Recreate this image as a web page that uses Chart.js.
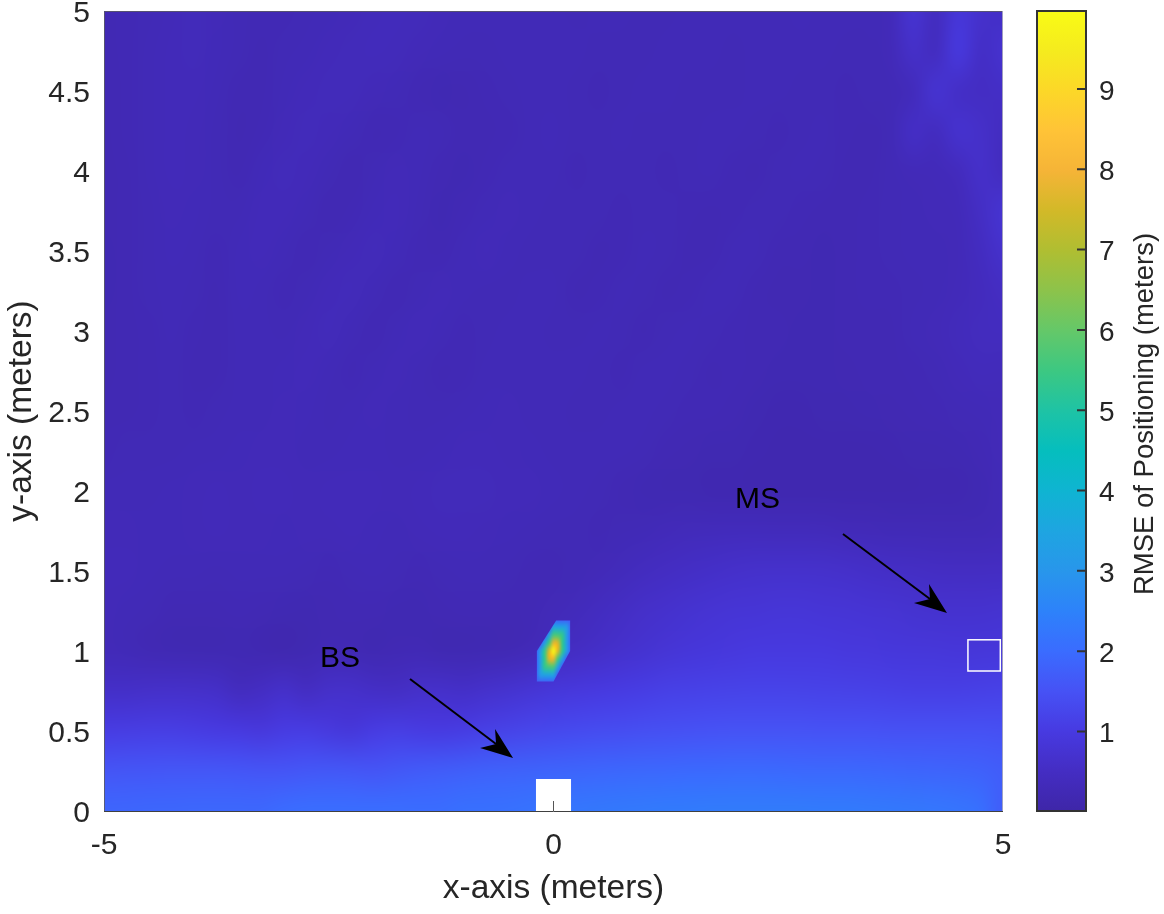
<!DOCTYPE html>
<html>
<head>
<meta charset="utf-8">
<title>RMSE of Positioning</title>
<script src="https://cdn.jsdelivr.net/npm/chart.js@4/dist/chart.umd.min.js"></script>
<style>
  html, body { margin: 0; padding: 0; background: #fff; }
  #mapChart { position: absolute; left: 0; top: 0; }
  #barChart { position: absolute; left: 1003px; top: 0; }
</style>
</head>
<body>
<canvas id="mapChart" width="1164" height="914"></canvas>
<canvas id="barChart" width="161" height="914"></canvas>
<script>
// Grid of the RMSE map, rows go from y = 5 down to y = 0
const xCells = [-5, -4.75, -4.5, -4.25, -4, -3.75, -3.5, -3.25, -3, -2.75, -2.5, -2.25, -2, -1.75, -1.5, -1.25, -1, -0.75, -0.5, -0.25, 0,
    0.25, 0.5, 0.75, 1, 1.25, 1.5, 1.75, 2, 2.25, 2.5, 2.75, 3, 3.25, 3.5, 3.75, 4, 4.25, 4.5, 4.75, 5];
const yCells = [5, 4.75, 4.5, 4.25, 4, 3.75, 3.5, 3.25, 3, 2.75, 2.5, 2.25, 2, 1.75, 1.5, 1.25, 1, 0.75, 0.5, 0.25, 0];
const rmseRows = [
    [.22,.24,.26,.30,.33,.30,.26,.24,.24,.26,.28,.30,.33,.35,.33,.30,.28,.27,.28,.28,.27, .26,.27,.27,.26,.26,.27,.28,.28,.27,.27,.29,.28,.27,.27,.32,.75,.40,.85,.65,.55],
    [.22,.24,.27,.31,.33,.29,.25,.23,.25,.28,.31,.34,.35,.33,.30,.28,.26,.26,.27,.28,.28, .27,.26,.25,.26,.27,.28,.27,.26,.27,.28,.28,.27,.26,.26,.30,.60,.42,.95,.55,.70],
    [.21,.24,.28,.32,.32,.27,.22,.22,.27,.31,.33,.33,.30,.27,.22,.20,.21,.24,.26,.28,.27, .25,.24,.26,.28,.27,.26,.25,.26,.28,.27,.26,.25,.24,.25,.26,.35,.75,.55,.50,.55],
    [.21,.24,.28,.32,.30,.25,.21,.24,.30,.33,.32,.27,.22,.24,.27,.26,.23,.22,.24,.27,.29, .26,.25,.27,.26,.25,.26,.28,.27,.25,.24,.26,.27,.24,.23,.26,.55,.42,.70,.60,.45],
    [.21,.23,.27,.31,.30,.25,.23,.29,.33,.32,.25,.21,.25,.30,.28,.23,.20,.24,.27,.28,.27, .24,.25,.26,.25,.24,.26,.27,.24,.23,.26,.27,.25,.23,.22,.25,.30,.32,.38,.62,.42],
    [.21,.23,.26,.30,.29,.25,.26,.32,.32,.27,.21,.24,.29,.31,.26,.20,.24,.28,.30,.28,.26, .25,.26,.24,.25,.26,.24,.22,.24,.26,.25,.24,.23,.22,.24,.26,.28,.30,.32,.52,.75],
    [.20,.22,.26,.29,.28,.24,.29,.31,.27,.22,.25,.30,.33,.29,.24,.23,.28,.31,.28,.26,.26, .26,.23,.24,.27,.25,.22,.23,.27,.28,.23,.22,.20,.22,.24,.25,.27,.28,.30,.45,.65],
    [.20,.22,.25,.28,.26,.22,.29,.28,.24,.26,.31,.33,.27,.22,.26,.30,.28,.25,.25,.27,.27, .23,.24,.27,.25,.22,.24,.28,.27,.22,.21,.21,.20,.22,.24,.24,.26,.27,.32,.38,.48],
    [.21,.22,.24,.27,.24,.22,.28,.27,.26,.30,.33,.27,.23,.27,.31,.27,.24,.26,.28,.27,.26, .25,.28,.25,.23,.26,.28,.26,.24,.22,.22,.20,.20,.22,.23,.23,.27,.30,.35,.40,.42],
    [.21,.22,.24,.26,.23,.23,.27,.27,.29,.32,.28,.24,.28,.30,.26,.23,.24,.27,.28,.27,.27, .27,.25,.24,.27,.27,.25,.23,.24,.22,.20,.20,.20,.21,.22,.22,.24,.26,.32,.36,.34],
    [.22,.23,.24,.25,.24,.25,.27,.28,.30,.29,.26,.27,.30,.27,.25,.25,.27,.29,.30,.28,.27, .26,.25,.27,.27,.25,.24,.24,.22,.19,.17,.17,.18,.19,.20,.21,.22,.24,.26,.28,.30],
    [.24,.25,.25,.26,.27,.28,.29,.30,.30,.28,.28,.29,.29,.27,.28,.29,.31,.31,.30,.29,.28, .27,.27,.27,.25,.23,.21,.19,.18,.16,.15,.14,.14,.15,.15,.16,.18,.18,.20,.24,.30],
    [.28,.28,.28,.29,.30,.31,.30,.31,.31,.30,.31,.32,.31,.30,.32,.33,.34,.33,.32,.31,.29, .27,.25,.22,.20,.19,.18,.17,.16,.15,.15,.14,.14,.14,.15,.15,.15,.16,.17,.20,.28],
    [.30,.30,.29,.29,.30,.32,.30,.30,.29,.30,.30,.31,.29,.28,.30,.31,.31,.30,.29,.28,.26, .25,.24,.25,.28,.31,.34,.36,.37,.37,.36,.35,.33,.32,.30,.28,.27,.26,.25,.26,.30],
    [.32,.31,.29,.28,.27,.26,.27,.28,.27,.25,.24,.26,.27,.25,.24,.26,.28,.27,.25,.24,.24, .26,.30,.36,.42,.48,.53,.58,.62,.64,.65,.65,.64,.62,.58,.55,.52,.50,.48,.48,.50],
    [.30,.28,.25,.23,.22,.22,.24,.23,.20,.19,.21,.23,.22,.20,.20,.22,.24,.24,.22,.24,.30, .36,.44,.52,.60,.66,.72,.76,.80,.82,.83,.83,.82,.80,.78,.75,.72,.70,.70,.70,.72],
    [.30,.27,.23,.20,.18,.19,.20,.16,.13,.18,.24,.22,.19,.22,.24,.19,.18,.20,.22,.30,.40, .50,.58,.66,.73,.80,.86,.90,.94,.96,.97,.97,.96,.94,.92,.90,.88,.87,.86,.87,.90],
    [.58,.58,.60,.62,.60,.58,.40,.50,.62,.48,.60,.62,.55,.52,.60,.62,.58,.65,.72,.80,.88, .94,.98,1.03,1.07,1.12,1.15,1.17,1.18,1.19,1.19,1.18,1.17,1.16,1.14,1.12,1.10,1.10,1.11,1.13,1.15],
    [1.05,1.06,1.08,1.08,1.05,1.00,.98,.92,1.02,1.04,.95,.88,1.02,1.08,1.02,1.00,1.05,1.12,1.18,1.25,1.30, 1.34,1.37,1.40,1.43,1.46,1.48,1.50,1.51,1.52,1.52,1.51,1.50,1.50,1.49,1.48,1.47,1.47,1.47,1.47,1.45],
    [1.55,1.57,1.58,1.60,1.60,1.60,1.58,1.55,1.55,1.60,1.62,1.60,1.55,1.62,1.68,1.72,1.75,1.78,1.80,1.82,1.85, 1.87,1.88,1.90,1.92,1.93,1.94,1.95,1.96,1.96,1.95,1.93,1.92,1.92,1.90,1.88,1.86,1.85,1.82,1.78,1.72],
    [1.88,1.88,1.90,1.90,1.92,1.92,1.92,1.92,2.00,2.05,2.05,2.05,2.05,2.05,2.02,2.02,2.10,2.10,2.12,2.15,2.20, 2.25,2.28,2.30,2.32,2.34,2.35,2.36,2.36,2.36,2.36,2.36,2.35,2.34,2.32,2.30,2.28,2.25,2.20,2.10,1.70]
];

// Error spike near (0, 1), read on a finer grid and cut to its outline
const peakXCells = [-0.2, -0.15, -0.1, -0.05, 0, 0.05, 0.1, 0.15, 0.2];
const peakYCells = [1.2, 1.15, 1.1, 1.05, 1, 0.95, 0.9, 0.85, 0.8];
const peakRows = [
    [1.7, 1.7, 1.7, 1.7, 1.7, 1.7, 1.7, 1.7, 1.7],
    [1.7, 1.7, 1.7, 1.7, 3.4, 3.4, 3.4, 3.1, 1.7],
    [1.7, 1.7, 1.7, 3.3, 5.6, 5.6, 5.3, 3.1, 1.7],
    [1.7, 1.7, 3.2, 5.5, 7.8, 7.6, 5.3, 3.1, 1.7],
    [1.7, 3.1, 5.3, 7.6, 9.9, 7.6, 5.3, 3.1, 1.7],
    [1.7, 3.1, 5.3, 7.6, 7.8, 5.5, 3.2, 1.7, 1.7],
    [1.7, 3.1, 5.3, 5.6, 5.6, 3.3, 1.7, 1.7, 1.7],
    [1.7, 3.1, 3.4, 3.4, 3.4, 1.7, 1.7, 1.7, 1.7],
    [1.7, 1.7, 1.7, 1.7, 1.7, 1.7, 1.7, 1.7, 1.7]
];
const peakOutlineX = [0.03, 0.185, 0.185, 0, -0.185, -0.185];
const peakOutlineY = [1.19, 1.19, 1.0, 0.81, 0.81, 1.0];

// Axis ticks
const xTicks = [-5, 0, 5];
const yTicks = [0, 0.5, 1, 1.5, 2, 2.5, 3, 3.5, 4, 4.5, 5];
const barTicks = [1, 2, 3, 4, 5, 6, 7, 8, 9];
const barRange = [0.01, 9.97];

// Colour map, position 0..1 and rgb
const mapPositions = [0, .05, .1, .15, .2, .25, .3, .35, .4, .45, .5, .55, .6, .65, .7, .75, .8, .85, .9, .95, 1];
const mapColors = [
    [62, 38, 168], [68, 45, 195], [71, 58, 225], [70, 82, 245], [58, 108, 255], [45, 130, 250], [40, 150, 235],
    [30, 165, 225], [15, 180, 210], [5, 190, 190], [30, 195, 165], [60, 200, 130], [100, 200, 105], [140, 195, 75],
    [175, 190, 50], [210, 185, 40], [245, 180, 55], [255, 195, 55], [252, 215, 40], [245, 235, 30], [249, 251, 21]
];

// Station boxes [x1, y1, x2, y2]
const bsBox = [-0.195, 0, 0.195, 0.2];
const msBox = [4.61, 0.875, 4.97, 1.07];

// Notes and arrows [xStart, yStart, xTip, yTip]
const noteLabels = ['BS', 'MS'];
const noteX = [-2.375, 2.27];
const noteY = [0.95, 1.945];
const arrows = [[-1.596, 0.825, -0.45, 0.331], [3.22, 1.731, 4.377, 1.2375]];

const fontName = '"Liberation Sans", Arial, sans-serif';
const inkColor = '#262626';

function colorFor(v) {
    const t = Math.min(1, Math.max(0, v / 10));
    let i = 0;
    while (i < mapPositions.length - 2 && t > mapPositions[i + 1]) i++;
    const f = (t - mapPositions[i]) / (mapPositions[i + 1] - mapPositions[i]);
    const a = mapColors[i], b = mapColors[i + 1];
    return [0, 1, 2].map(k => Math.round(a[k] + (b[k] - a[k]) * f));
}

// One pixel per cell, the browser smooths it when it is scaled up
function gridToCanvas(rows) {
    const c = document.createElement('canvas');
    c.width = rows[0].length;
    c.height = rows.length;
    const g = c.getContext('2d');
    const img = g.createImageData(c.width, c.height);
    rows.forEach((row, r) => row.forEach((v, i) => {
        const p = (r * c.width + i) * 4;
        const rgb = colorFor(v);
        img.data[p] = rgb[0];
        img.data[p + 1] = rgb[1];
        img.data[p + 2] = rgb[2];
        img.data[p + 3] = 255;
    }));
    g.putImageData(img, 0, 0);
    return c;
}

function drawGrid(chart, rows, xs, ys) {
    const ctx = chart.ctx;
    const sx = chart.scales.x, sy = chart.scales.y;
    const dx = Math.abs(xs[1] - xs[0]) / 2, dy = Math.abs(ys[1] - ys[0]) / 2;
    const left = sx.getPixelForValue(xs[0] - dx);
    const right = sx.getPixelForValue(xs[xs.length - 1] + dx);
    const top = sy.getPixelForValue(ys[0] + dy);
    const bottom = sy.getPixelForValue(ys[ys.length - 1] - dy);
    ctx.imageSmoothingEnabled = true;
    ctx.imageSmoothingQuality = 'high';
    ctx.drawImage(gridToCanvas(rows), left, top, right - left, bottom - top);
}

const heatPlugin = {
    id: 'heat',
    beforeDatasetsDraw(chart) {
        const a = chart.chartArea, ctx = chart.ctx;
        const sx = chart.scales.x, sy = chart.scales.y;
        ctx.save();
        ctx.beginPath();
        ctx.rect(a.left, a.top, a.right - a.left, a.bottom - a.top);
        ctx.clip();
        drawGrid(chart, rmseRows, xCells, yCells);
        ctx.beginPath();
        peakOutlineX.forEach((x, i) => ctx.lineTo(sx.getPixelForValue(x), sy.getPixelForValue(peakOutlineY[i])));
        ctx.closePath();
        ctx.clip();
        drawGrid(chart, peakRows, peakXCells, peakYCells);
        ctx.restore();
    },
    afterDatasetsDraw(chart) {
        const ctx = chart.ctx, a = chart.chartArea;
        const sx = chart.scales.x, sy = chart.scales.y;
        ctx.save();

        // stations
        const bsLeft = sx.getPixelForValue(bsBox[0]), bsTop = sy.getPixelForValue(bsBox[3]);
        ctx.fillStyle = '#fff';
        ctx.fillRect(bsLeft, bsTop, sx.getPixelForValue(bsBox[2]) - bsLeft, sy.getPixelForValue(bsBox[1]) - bsTop);
        ctx.strokeStyle = '#fff';
        ctx.lineWidth = 1.5;
        ctx.strokeRect(sx.getPixelForValue(msBox[0]), sy.getPixelForValue(msBox[3]),
            sx.getPixelForValue(msBox[2]) - sx.getPixelForValue(msBox[0]),
            sy.getPixelForValue(msBox[1]) - sy.getPixelForValue(msBox[3]));

        // the map hides the axis ticks, only the one in the white box shows
        ctx.strokeStyle = '#555';
        ctx.lineWidth = 1;
        ctx.beginPath();
        const tickX = Math.round(sx.getPixelForValue(xTicks[1])) - 0.5;
        ctx.moveTo(tickX, a.bottom);
        ctx.lineTo(tickX, a.bottom - 10);
        ctx.stroke();

        // arrows
        arrows.forEach(ar => {
            const x0 = sx.getPixelForValue(ar[0]), y0 = sy.getPixelForValue(ar[1]);
            const x1 = sx.getPixelForValue(ar[2]), y1 = sy.getPixelForValue(ar[3]);
            ctx.strokeStyle = '#000';
            ctx.fillStyle = '#000';
            ctx.lineWidth = 2;
            ctx.beginPath();
            ctx.moveTo(x0, y0);
            ctx.lineTo(x1 - 17, y1 - 14);
            ctx.stroke();
            ctx.beginPath();
            ctx.moveTo(x1, y1);
            ctx.lineTo(x1 - 18, y1 - 29);
            ctx.lineTo(x1 - 17, y1 - 14);
            ctx.lineTo(x1 - 33, y1 - 10);
            ctx.closePath();
            ctx.fill();
        });

        // notes
        ctx.font = '30px ' + fontName;
        ctx.fillStyle = '#000';
        ctx.textAlign = 'center';
        ctx.textBaseline = 'middle';
        noteLabels.forEach((t, i) => ctx.fillText(t, sx.getPixelForValue(noteX[i]), sy.getPixelForValue(noteY[i])));

        // box, bottom edge is darker than the rest
        ctx.lineWidth = 1;
        ctx.strokeStyle = 'rgba(90,90,100,0.85)';
        ctx.beginPath();
        ctx.moveTo(a.left + 0.5, a.bottom);
        ctx.lineTo(a.left + 0.5, a.top + 0.5);
        ctx.lineTo(a.right - 0.5, a.top + 0.5);
        ctx.stroke();
        ctx.strokeStyle = 'rgba(170,170,190,0.9)';
        ctx.beginPath();
        ctx.moveTo(a.right - 0.5, a.top);
        ctx.lineTo(a.right - 0.5, a.bottom);
        ctx.stroke();
        ctx.strokeStyle = '#404040';
        ctx.beginPath();
        ctx.moveTo(a.left, a.bottom + 0.5);
        ctx.lineTo(a.right, a.bottom + 0.5);
        ctx.stroke();
        ctx.restore();
    }
};

const barFramePlugin = {
    id: 'barFrame',
    afterDatasetsDraw(chart) {
        const ctx = chart.ctx, a = chart.chartArea, sy = chart.scales.y;
        ctx.save();
        ctx.strokeStyle = '#333';
        ctx.lineWidth = 2;
        ctx.strokeRect(a.left, a.top, a.right - a.left, a.bottom - a.top);
        ctx.beginPath();
        barTicks.forEach(v => {
            const p = sy.getPixelForValue(v);
            ctx.moveTo(a.right, p);
            ctx.lineTo(a.right - 9, p);
        });
        ctx.stroke();

        // title reads bottom to top
        ctx.translate(142, (a.top + a.bottom) / 2 + 3);
        ctx.rotate(-Math.PI / 2);
        ctx.font = '27.5px ' + fontName;
        ctx.fillStyle = inkColor;
        ctx.textAlign = 'center';
        ctx.textBaseline = 'middle';
        ctx.fillText('RMSE of Positioning (meters)', 0, 0);
        ctx.restore();
    }
};

function noScalePadding(s) {
    s.paddingLeft = 0;
    s.paddingRight = 0;
    s.paddingTop = 0;
    s.paddingBottom = 0;
}

// RMSE map
new Chart(document.getElementById('mapChart'), {
    type: 'scatter',
    data: {
        datasets: [{
            label: 'RMSE',
            data: rmseRows.flatMap((row, r) => row.map((v, i) => ({ x: xCells[i], y: yCells[r], v: v }))),
            pointRadius: 0
        }]
    },
    plugins: [heatPlugin],
    options: {
        responsive: false,
        animation: false,
        layout: { padding: { top: 11, right: 161, left: 0, bottom: 0 } },
        plugins: { legend: { display: false }, tooltip: { enabled: false } },
        scales: {
            x: {
                type: 'linear',
                min: -5,
                max: 5,
                afterBuildTicks: s => { s.ticks = xTicks.map(v => ({ value: v })); },
                afterFit: s => { s.height = 103; noScalePadding(s); },
                grid: { display: false },
                border: { display: false },
                ticks: {
                    autoSkip: false,
                    maxRotation: 0,
                    padding: 9,
                    color: inkColor,
                    font: { family: fontName, size: 30 },
                    callback: v => String(v)
                },
                title: {
                    display: true,
                    text: 'x-axis (meters)',
                    color: inkColor,
                    font: { family: fontName, size: 33.5 },
                    padding: { top: 0, bottom: 5 }
                }
            },
            y: {
                type: 'linear',
                min: 0,
                max: 5,
                afterBuildTicks: s => { s.ticks = yTicks.map(v => ({ value: v })); },
                afterFit: s => { s.width = 104; noScalePadding(s); },
                grid: { display: false },
                border: { display: false },
                ticks: {
                    autoSkip: false,
                    padding: 6,
                    labelOffset: 3,
                    color: inkColor,
                    font: { family: fontName, size: 30 },
                    callback: v => String(v)
                },
                title: {
                    display: true,
                    text: 'y-axis (meters)',
                    color: inkColor,
                    font: { family: fontName, size: 33.5 },
                    padding: { top: 2, bottom: 0 }
                }
            }
        }
    }
});

// Colour bar
new Chart(document.getElementById('barChart'), {
    type: 'bar',
    data: {
        labels: ['RMSE'],
        datasets: [{
            data: [barRange],
            barPercentage: 1,
            categoryPercentage: 1,
            borderSkipped: false,
            backgroundColor(ctx) {
                const a = ctx.chart.chartArea;
                if (!a) return '#3e26a8';
                const grad = ctx.chart.ctx.createLinearGradient(0, a.bottom, 0, a.top);
                mapPositions.forEach((p, i) => grad.addColorStop(p, 'rgb(' + mapColors[i].join(',') + ')'));
                return grad;
            }
        }]
    },
    plugins: [barFramePlugin],
    options: {
        responsive: false,
        animation: false,
        layout: { padding: { top: 11, left: 34, right: 0, bottom: 103 } },
        plugins: { legend: { display: false }, tooltip: { enabled: false } },
        scales: {
            x: { display: false },
            y: {
                position: 'right',
                min: barRange[0],
                max: barRange[1],
                afterBuildTicks: s => { s.ticks = barTicks.map(v => ({ value: v })); },
                afterFit: s => { s.width = 78; noScalePadding(s); },
                grid: { display: false },
                border: { display: false },
                ticks: {
                    autoSkip: false,
                    padding: 5,
                    labelOffset: 3,
                    color: inkColor,
                    font: { family: fontName, size: 28 }
                }
            }
        }
    }
});
</script>
</body>
</html>
